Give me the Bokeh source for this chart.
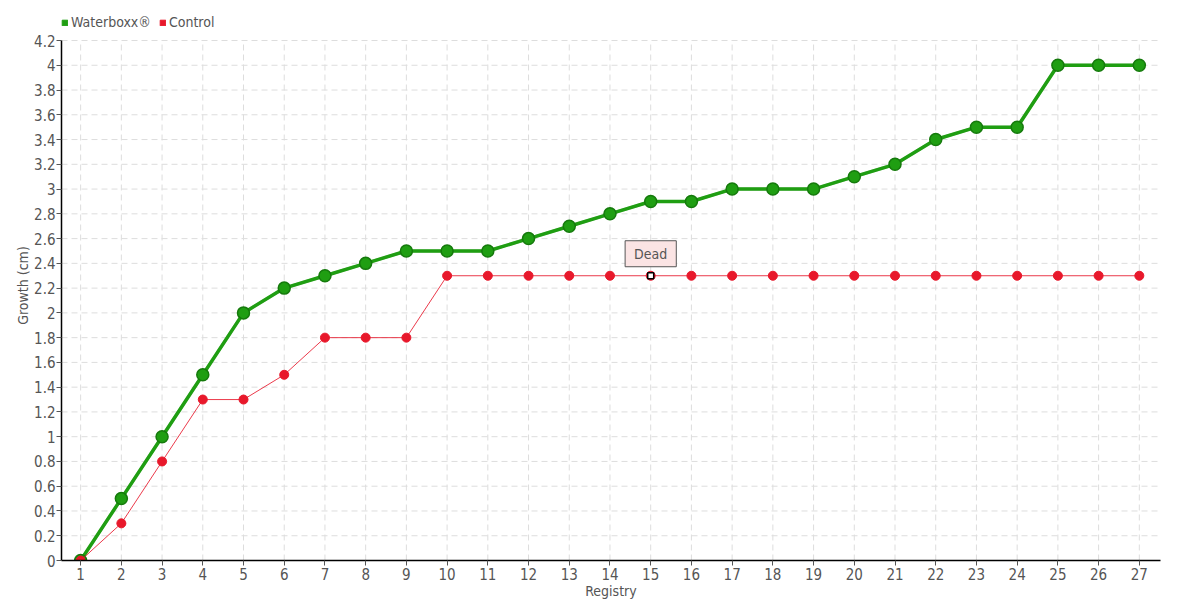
from bokeh.plotting import figure
from bokeh.models import (ColumnDataSource, Legend, LegendItem, Label, FixedTicker,
                          Range1d, CustomJSTickFormatter)
from bokeh.embed import file_html
from bokeh.resources import INLINE

registry = list(range(1, 28))
waterboxx = [0, 0.5, 1.0, 1.5, 2.0, 2.2, 2.3, 2.4, 2.5, 2.5, 2.5, 2.6, 2.7, 2.8,
             2.9, 2.9, 3.0, 3.0, 3.0, 3.1, 3.2, 3.4, 3.5, 3.5, 4.0, 4.0, 4.0]
control = [0, 0.3, 0.8, 1.3, 1.3, 1.5, 1.8, 1.8, 1.8, 2.3, 2.3, 2.3, 2.3, 2.3,
           2.3, 2.3, 2.3, 2.3, 2.3, 2.3, 2.3, 2.3, 2.3, 2.3, 2.3, 2.3, 2.3]
y_ticks = [round(i * 0.2, 1) for i in range(22)]
y_max = 4.2
note_x = 15
note_text = "Dead"

FONT = "DejaVu Sans Condensed, Liberation Sans Narrow, Roboto, sans-serif"
GRAY = "#555555"
GREEN = "#1f9e12"
RED = "#e8182b"
GRID = "#dddddd"

FRAME_H = 550          # frame reaches up into the legend strip
PLOT_H = 520           # height used by the 0..4.2 scale
y_top = y_max * FRAME_H / PLOT_H
x_lo, x_hi = 0.53, 27.52

p = figure(frame_width=1099, frame_height=FRAME_H, output_backend="svg",
           toolbar_location=None,
           x_range=Range1d(x_lo, x_hi), y_range=Range1d(0, y_top),
           min_border_left=61, min_border_right=12, min_border_bottom=30,
           min_border_top=10)
p.outline_line_color = None
p.xgrid.visible = False
p.ygrid.visible = False

# grid drawn from the tick arrays, bounded at 4.2
p.segment(x0=registry, x1=registry, y0=[0] * len(registry), y1=[y_max] * len(registry),
          line_color=GRID, line_dash="6 4", line_width=1)
p.segment(x0=[x_lo] * len(y_ticks), x1=[x_hi] * len(y_ticks), y0=y_ticks, y1=y_ticks,
          line_color=GRID, line_dash="6 4", line_width=1)

src = ColumnDataSource(dict(x=registry, w=waterboxx, c=control))

p.line("x", "w", source=src, line_color="#0d5a08", line_width=3, line_alpha=0.3)
wl = p.line("x", "w", source=src, line_color=GREEN, line_width=3.5)
wm = p.scatter("x", "w", source=src, size=12, fill_color=GREEN,
               line_color="#157a0c", line_width=1.5)
cl = p.line("x", "c", source=src, line_color=RED, line_width=1, line_alpha=0.85)
cm = p.scatter("x", "c", source=src, size=9, fill_color=RED, line_color=RED)

p.scatter([note_x], [control[note_x - 1]], marker="square", size=6,
          fill_color="white", line_color="black", line_width=1.5)
lab = Label(x=note_x, y=control[note_x - 1], y_offset=9, text=note_text,
            text_align="center", text_baseline="bottom",
            text_font=FONT, text_font_size="14px", text_color=GRAY,
            background_fill_color="#fbe4e4", border_line_color=GRAY,
            border_line_width=1, padding=(9, 5))
p.add_layout(lab)

p.xaxis.ticker = FixedTicker(ticks=registry)
p.yaxis.ticker = FixedTicker(ticks=y_ticks)
p.yaxis.bounds = (0, y_max)
p.yaxis.formatter = CustomJSTickFormatter(code="return String(Math.round(tick*10)/10);")
p.xaxis.axis_label = "Registry"
p.yaxis.axis_label = "Growth (cm)"
for ax in (p.xaxis[0], p.yaxis[0]):
    ax.axis_line_color = "black"
    ax.axis_line_width = 1.5
    ax.major_tick_line_color = GRAY
    ax.major_tick_out = 5
    ax.major_tick_in = 0
    ax.minor_tick_line_color = None
    ax.major_label_text_font = FONT
    ax.major_label_text_font_size = "15px"
    ax.major_label_text_color = GRAY
    ax.axis_label_text_font = FONT
    ax.axis_label_text_font_size = "14px"
    ax.axis_label_text_color = GRAY
    ax.axis_label_text_font_style = "normal"
p.xaxis.axis_label_standoff = 0
p.yaxis.axis_label_standoff = 0
p.xaxis.major_label_standoff = 2
p.yaxis.major_label_standoff = 1

sq_w = p.quad(left=[-10], right=[-9], bottom=[-10], top=[-9], fill_color=GREEN, line_color=GREEN)
sq_c = p.quad(left=[-10], right=[-9], bottom=[-10], top=[-9], fill_color=RED, line_color=RED)
legend = Legend(items=[LegendItem(label="Waterboxx®", renderers=[sq_w]),
                       LegendItem(label="Control", renderers=[sq_c])],
                orientation="horizontal", location=(0, FRAME_H - 20),
                label_text_font=FONT, label_text_font_size="14px",
                label_text_color=GRAY, glyph_width=7, glyph_height=7,
                label_standoff=3, spacing=8, padding=0, margin=0,
                border_line_color=None, background_fill_alpha=0,
                label_height=14)
p.add_layout(legend)

open("out.html", "w").write(file_html(p, INLINE))
